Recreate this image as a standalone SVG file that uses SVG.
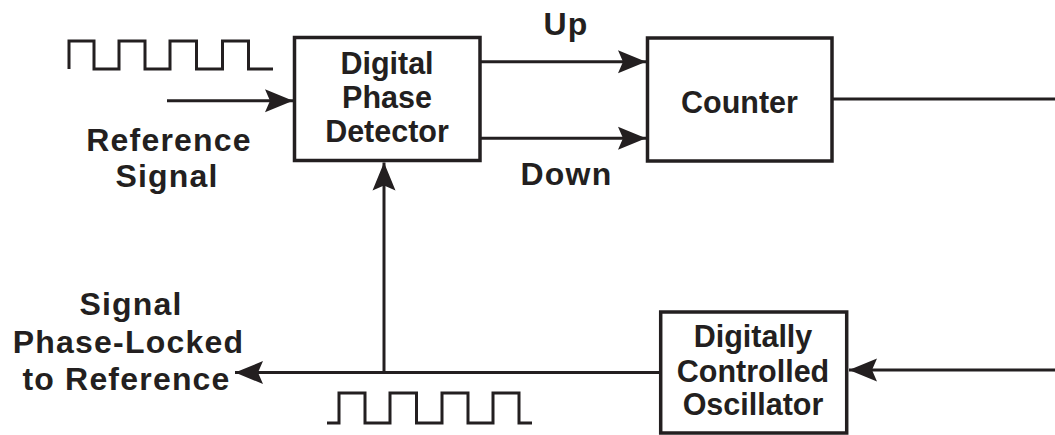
<svg xmlns="http://www.w3.org/2000/svg" width="1055" height="435" viewBox="0 0 1055 435">
  <style>
    .box { fill: #ffffff; stroke: #231f20; stroke-width: 3.5; }
    .wire { fill: none; stroke: #231f20; stroke-width: 3; }
    .wave { fill: none; stroke: #231f20; stroke-width: 3; stroke-linejoin: miter; }
    .t { font-family: "Liberation Sans", Arial, sans-serif; font-weight: bold; font-size: 30.5px; fill: #231f20; text-anchor: middle; }
    .lbl { font-size: 32px; letter-spacing: 1.2px; }
  </style>
  <defs>
    <marker id="arrow" markerUnits="userSpaceOnUse" markerWidth="30" markerHeight="26" viewBox="-29 -13 30 26" refX="0" refY="0" orient="auto">
      <path d="M0,0 L-28,-11.5 L-23,0 L-28,11.5 Z" fill="#231f20"/>
    </marker>
  </defs>

  <g id="connectors">
    <line class="wire" x1="167" y1="100.8" x2="293" y2="100.8" marker-end="url(#arrow)"/>
    <line class="wire" x1="480" y1="61.7" x2="646" y2="61.7" marker-end="url(#arrow)"/>
    <line class="wire" x1="480" y1="138.3" x2="646" y2="138.3" marker-end="url(#arrow)"/>
    <line class="wire" x1="832" y1="99" x2="1055" y2="99"/>
    <line class="wire" x1="1055" y1="370" x2="849" y2="370" marker-end="url(#arrow)"/>
    <line class="wire" x1="660" y1="372.5" x2="235" y2="372.5" marker-end="url(#arrow)"/>
    <line class="wire" x1="384" y1="372.5" x2="384" y2="162.5" marker-end="url(#arrow)"/>
  </g>

  <g id="ref-wave">
    <path class="wave" d="M69,69 V41 H94 V69 H119 V41 H145 V69 H170 V41 H196.5 V69 H222.5 V41 H248.5 V69 H273"/>
  </g>
  <g id="out-wave">
    <path class="wave" d="M327,423 H339 V393 H365 V423 H390 V393 H416.5 V423 H442 V393 H468 V423 H493 V393 H519 V423 H532"/>
  </g>

  <g id="dpd">
    <rect class="box" x="294.5" y="37.5" width="185.5" height="123"/>
    <text class="t" x="387" y="73.5">Digital</text>
    <text class="t" x="387" y="107.5">Phase</text>
    <text class="t" x="387" y="141.5">Detector</text>
  </g>

  <g id="counter">
    <rect class="box" x="647.5" y="38" width="184.5" height="123"/>
    <text class="t" x="739.5" y="113.3">Counter</text>
  </g>

  <g id="dco">
    <rect class="box" x="660.7" y="312" width="186" height="121"/>
    <text class="t" x="753" y="347">Digitally</text>
    <text class="t" x="753" y="381.7">Controlled</text>
    <text class="t" x="753" y="415">Oscillator</text>
  </g>

  <g id="labels">
    <text class="t lbl" x="566" y="34.5">Up</text>
    <text class="t lbl" x="566.5" y="185">Down</text>
    <text class="t lbl" x="169" y="150.7">Reference</text>
    <text class="t lbl" x="167" y="187.3">Signal</text>
    <text class="t lbl" x="131" y="315">Signal</text>
    <text class="t lbl" x="128.5" y="353.3">Phase-Locked</text>
    <text class="t lbl" x="126.5" y="390">to Reference</text>
  </g>
</svg>
